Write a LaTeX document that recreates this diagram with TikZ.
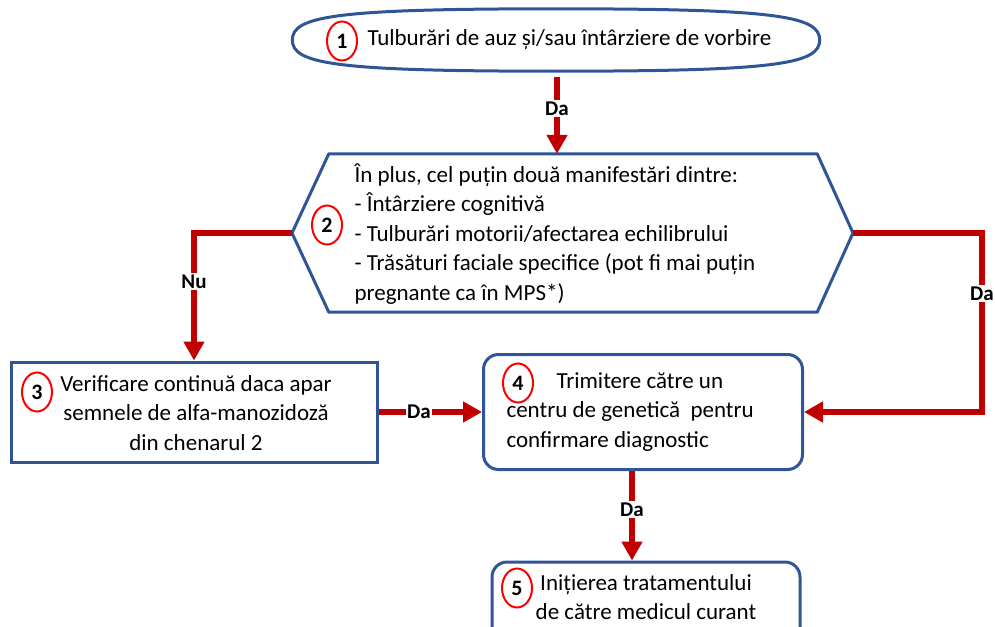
\documentclass[tikz,border=0pt]{standalone}
\usepackage{fontspec}
\setmainfont{Carlito}
\usetikzlibrary{arrows.meta,shapes.geometric,positioning}
\definecolor{boxblue}{RGB}{47,85,151}
\definecolor{flowred}{RGB}{192,0,0}
\colorlet{box edge}{boxblue}
\colorlet{flow line}{flowred}
\colorlet{badge edge}{red}
\tikzset{box/.style={draw=box edge, line width=3pt, inner sep=0pt},
      outline/.style={draw=box edge, line width=3pt, line join=round},
      roundbox/.style={box, rounded corners=15pt},
      badge/.style={ellipse, draw=badge edge, line width=2pt, minimum width=30pt,
        minimum height=39pt, inner sep=0pt, font=\bfseries\fontsize{22}{22}\selectfont},
      flow/.style={draw=flow line, line width=6pt,
        -{Triangle[length=19pt, width=20pt]}},
      answer/.style={fill=white, inner sep=1.5pt, font=\bfseries\fontsize{21}{21}\selectfont}}

\begin{document}
\begin{tikzpicture}[x=1pt, y=-1pt, font=\fontsize{23}{29.5}\selectfont
]
\useasboundingbox (0,0) rectangle (995,626);
    % boxes
    \node[minimum width=527, minimum height=62, inner sep=0pt] (b1) at (556,40) {};
    \draw[outline] (b1.west) .. controls +(0,-24) and +(-220,0) .. (b1.north)
      .. controls +(220,0) and +(0,-24) .. (b1.east)
      .. controls +(0,24) and +(220,0) .. (b1.south)
      .. controls +(-220,0) and +(0,24) .. (b1.west) -- cycle;
    \node[minimum width=488, minimum height=158] (b2) at (573,233) {};
    \coordinate (b2w) at (292,233);
    \coordinate (b2e) at (853,233);
    \draw[outline] (b2.north west) -- (b2.north east) -- (b2e)
      -- (b2.south east) -- (b2.south west) -- (b2w) -- cycle;
    \node[box, minimum width=366, minimum height=100] (b3) at (194,412) {};
    \node[roundbox, minimum width=319, minimum height=115] (b4) at (643,412) {};
    \node[roundbox, minimum width=308, minimum height=80] (b5) at (646,602) {};
    % texts
    \node[anchor=west] (t1) at (364,40) {Tulburări de auz și/sau întârziere de vorbire};
    \node[anchor=west, align=left] (t2) at (351,234)
      {În plus, cel puțin două manifestări dintre:\\- Întârziere cognitivă\\
       - Tulburări motorii/afectarea echilibrului\\
       - Trăsături faciale specifice (pot fi mai puțin\\pregnante ca în MPS*)};
    \node[align=center] (t3) at (196,413)
      {Verificare continuă daca apar\\semnele de alfa-manozidoză\\din chenarul 2};
    \node[anchor=west, align=left] (t4) at (503,412)
      {\hspace*{50pt}Trimitere către un\\centru de genetică\ \ pentru\\confirmare diagnostic};
    \node[align=center] (t5) at (646,597) {Inițierea tratamentului\\de către medicul curant};
    % numbers
    \node[badge] (c1) at (342,41) {1};
    \node[badge] (c2) at (327,225) {2};
    \node[badge] (c3) at (37,392) {3};
    \node[badge] (c4) at (518,383) {4};
    \node[badge] (c5) at (517,588) {5};
    % arrows
    \coordinate (r1) at (982,233);
    \draw[flow, shorten <=6pt] ([xshift=1pt]b1.south) -- node[answer, pos=0.45] {Da} ([xshift=1pt]b1.south |- b2.north);
    \draw[flow] (b2w) -| node[answer, pos=0.69] {Nu} (b3.north);
    \draw[flow] (b2e) -- (r1) |- node[answer, pos=0.17] {Da} (b4.east);
    \draw[flow] (b3.east) -- node[answer, pos=0.39] {Da} (b4.west);
    \draw[flow] ([xshift=-11pt]b4.south) -- node[answer, pos=0.43] {Da} ([xshift=-11pt]b4.south |- b5.north);
\end{tikzpicture}
\end{document}
